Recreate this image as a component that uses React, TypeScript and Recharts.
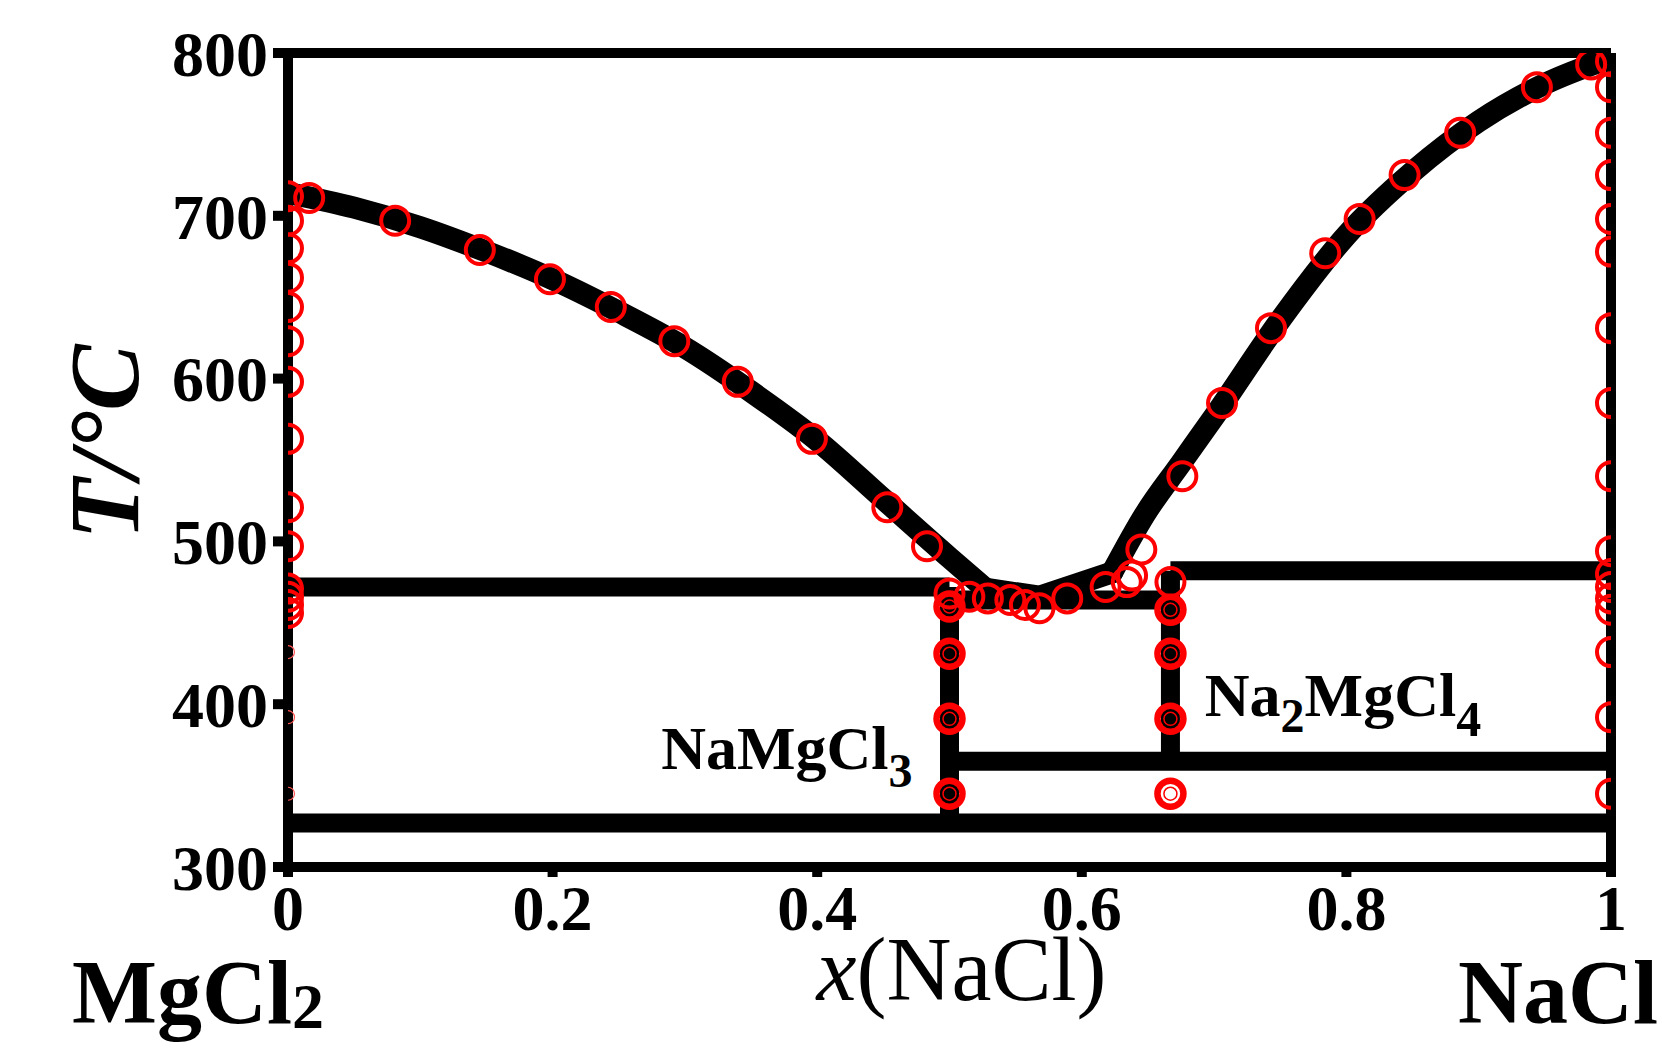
import React from "react";
import { ComposedChart, Line, Scatter, XAxis, YAxis, ReferenceLine, ReferenceDot } from "recharts";

type Pt = { x: number; T: number };

const FONT = "'Liberation Serif', 'Times New Roman', serif";
const RED = "#ff0000";

const xTicks = [0, 0.2, 0.4, 0.6, 0.8, 1];
const yTicks = [300, 400, 500, 600, 700, 800];

// calculated liquidus
const liquidusLeft: Pt[] = [
  { x: 0, T: 714 }, { x: 0.05, T: 705 }, { x: 0.1, T: 693 }, { x: 0.15, T: 678 },
  { x: 0.2, T: 661 }, { x: 0.25, T: 641 }, { x: 0.3, T: 619 }, { x: 0.35, T: 592 },
  { x: 0.4, T: 562 }, { x: 0.45, T: 526 }, { x: 0.5, T: 490 }, { x: 0.527, T: 471 },
];
const liquidusMid: Pt[] = [{ x: 0.527, T: 471 }, { x: 0.568, T: 466 }, { x: 0.623, T: 481 }];
const liquidusRight: Pt[] = [
  { x: 0.623, T: 481 }, { x: 0.648, T: 517 }, { x: 0.675, T: 548 }, { x: 0.702, T: 579 },
  { x: 0.75, T: 636 }, { x: 0.8, T: 688 }, { x: 0.85, T: 727 }, { x: 0.9, T: 758 },
  { x: 0.95, T: 781 }, { x: 1, T: 797 },
];

// invariant lines and compounds
const line327: Pt[] = [{ x: 0, T: 327 }, { x: 1, T: 327 }];
const line472: Pt[] = [{ x: 0, T: 472 }, { x: 0.5, T: 472 }];
const line464: Pt[] = [{ x: 0.5, T: 464 }, { x: 0.667, T: 464 }];
const line482: Pt[] = [{ x: 0.667, T: 482 }, { x: 1, T: 482 }];
const line365: Pt[] = [{ x: 0.5, T: 365 }, { x: 1, T: 365 }];
const naMgCl3: Pt[] = [{ x: 0.5, T: 327 }, { x: 0.5, T: 472 }];
const na2MgCl4: Pt[] = [{ x: 0.667, T: 365 }, { x: 0.667, T: 482 }];

// experimental points
const expX = [0.016, 0.081, 0.145, 0.198, 0.244, 0.292, 0.34, 0.396, 0.453, 0.483, 0.5, 0.515, 0.529, 0.546, 0.557, 0.568, 0.589, 0.618, 0.634, 0.638, 0.645, 0.667, 0.676, 0.706, 0.743, 0.784, 0.81, 0.844, 0.886, 0.944, 0.985];
const expT = [711, 697, 679, 661, 644, 623, 598, 563, 521, 497, 468, 466, 465, 464, 461, 459, 465, 472, 475, 479, 495, 475, 540, 585, 631, 677, 698, 725, 751, 779, 793];
const leftEdgeT = [712, 697, 680, 662, 644, 623, 598, 563, 521, 497, 471, 466, 461, 456];
const leftEdgeSmallT = [432, 392, 345];
const rightEdgeT = [795, 779, 751, 725, 698, 678, 631, 585, 540, 494, 480, 472, 465, 458, 432, 392, 345];
const compoundX = [0.5, 0.5, 0.5, 0.5, 0.667, 0.667, 0.667, 0.667];
const compoundT = [460, 431, 391, 345, 458, 431, 391, 345];

const toPts = (xs: number[], ts: number[]): Pt[] => xs.map((x, i) => ({ x, T: ts[i] }));
const expPts = toPts(expX, expT);
const edgePts = [...leftEdgeT.map((T) => ({ x: 0, T })), ...rightEdgeT.map((T) => ({ x: 1, T }))];
const edgeSmallPts = leftEdgeSmallT.map((T) => ({ x: 0, T }));
const compoundPts = toPts(compoundX, compoundT);

const BigRing = (p: any) => <circle cx={p.cx} cy={p.cy} r={14} fill="none" stroke={RED} strokeWidth={4} />;
const DoubleRing = (p: any) => (
  <g>
    <circle cx={p.cx} cy={p.cy} r={13} fill="none" stroke={RED} strokeWidth={6.5} />
    <circle cx={p.cx} cy={p.cy} r={6.5} fill="none" stroke={RED} strokeWidth={1.5} />
  </g>
);
const SmallRing = (p: any) => <circle cx={p.cx} cy={p.cy} r={6.5} fill="none" stroke="#ff5555" strokeWidth={1.2} />;

function XLabels(props: any) {
  const { x, y, width } = props.viewBox;
  return (
    <g fontFamily={FONT} fill="#000">
      <text x={x + width / 2 + 12} y={y + 133} fontSize={90} textAnchor="middle">
        <tspan fontStyle="italic">x</tspan>(NaCl)
      </text>
      <text x={x - 216} y={y + 156} fontSize={90} fontWeight={700}>
        MgCl<tspan fontSize={64} dy={5}>2</tspan>
      </text>
      <text x={x + width + 47} y={y + 156} fontSize={90} fontWeight={700} textAnchor="end">NaCl</text>
    </g>
  );
}

function YLabel(props: any) {
  const { x, y, height } = props.viewBox;
  const cx = x;
  const cy = y + height / 2 - 18;
  return (
    <text x={cx} y={cy} transform={`rotate(-90 ${cx} ${cy})`} textAnchor="middle" fontFamily={FONT}
      fontSize={100} fontWeight={700} fontStyle="italic" fill="#000">
      T/°C
    </text>
  );
}

const NaMgCl3Label = (p: any) => (
  <text x={p.cx} y={p.cy} textAnchor="end" fontFamily={FONT} fontSize={62} fontWeight={700} fill="#000">
    NaMgCl<tspan fontSize={48} dy={18}>3</tspan>
  </text>
);
const Na2MgCl4Label = (p: any) => (
  <text x={p.cx} y={p.cy} fontFamily={FONT} fontSize={62} fontWeight={700} fill="#000">
    Na<tspan fontSize={48} dy={16}>2</tspan><tspan fontSize={62} dy={-16}>MgCl</tspan><tspan fontSize={50} dy={20}>4</tspan>
  </text>
);

const thick = { stroke: "#000", strokeWidth: 19, dot: false, activeDot: false, isAnimationActive: false, dataKey: "T" } as const;
const curve = { ...thick, strokeWidth: 22, strokeLinecap: "round", strokeLinejoin: "round" } as const;
const tickStyle = { fontSize: 64, fontWeight: 700, fill: "#000", fontFamily: FONT };

export default function App() {
  return (
    <div style={{ position: "absolute", left: 0, top: 0, width: 1672, height: 1046, background: "#fff" }}>
      <ComposedChart width={1672} height={1046} margin={{ top: 53, right: 61, left: 138, bottom: 119 }}>
        <Line {...thick} data={line327} strokeLinecap="butt" />
        <Line {...thick} data={line472} strokeLinecap="butt" />
        <Line {...thick} data={line464} strokeLinecap="butt" />
        <Line {...thick} data={line482} strokeLinecap="butt" />
        <Line {...thick} data={line365} strokeLinecap="butt" />
        <Line {...thick} data={naMgCl3} strokeLinecap="butt" />
        <Line {...thick} data={na2MgCl4} strokeLinecap="butt" />
        <Line {...curve} data={liquidusLeft} type="monotone" />
        <Line {...curve} data={liquidusMid} type="linear" />
        <Line {...curve} data={liquidusRight} type="monotone" />
        <Scatter data={edgeSmallPts} dataKey="T" shape={SmallRing} isAnimationActive={false} />
        <Scatter data={edgePts} dataKey="T" shape={BigRing} isAnimationActive={false} />
        <Scatter data={expPts} dataKey="T" shape={BigRing} isAnimationActive={false} />
        <Scatter data={compoundPts} dataKey="T" shape={DoubleRing} isAnimationActive={false} />
        <ReferenceDot x={0.472} y={360} r={1} ifOverflow="visible" shape={NaMgCl3Label} />
        <ReferenceDot x={0.693} y={393} r={1} ifOverflow="visible" shape={Na2MgCl4Label} />
        <ReferenceLine y={800} stroke="#000" strokeWidth={10} ifOverflow="visible" />
        <ReferenceLine x={1} stroke="#000" strokeWidth={10} ifOverflow="visible" />
        <XAxis dataKey="x" type="number" domain={[0, 1]} ticks={xTicks} allowDataOverflow
          height={60} tickSize={10} tickMargin={8} interval={0}
          axisLine={{ stroke: "#000", strokeWidth: 10 }} tickLine={{ stroke: "#000", strokeWidth: 10 }}
          tick={tickStyle} tickFormatter={(v: number) => String(v)} label={XLabels} />
        <YAxis type="number" domain={[300, 800]} ticks={yTicks} allowDataOverflow
          width={150} tickSize={15} tickMargin={5} interval={0}
          axisLine={{ stroke: "#000", strokeWidth: 10 }} tickLine={{ stroke: "#000", strokeWidth: 10 }}
          tick={tickStyle} label={YLabel} />
      </ComposedChart>
    </div>
  );
}
